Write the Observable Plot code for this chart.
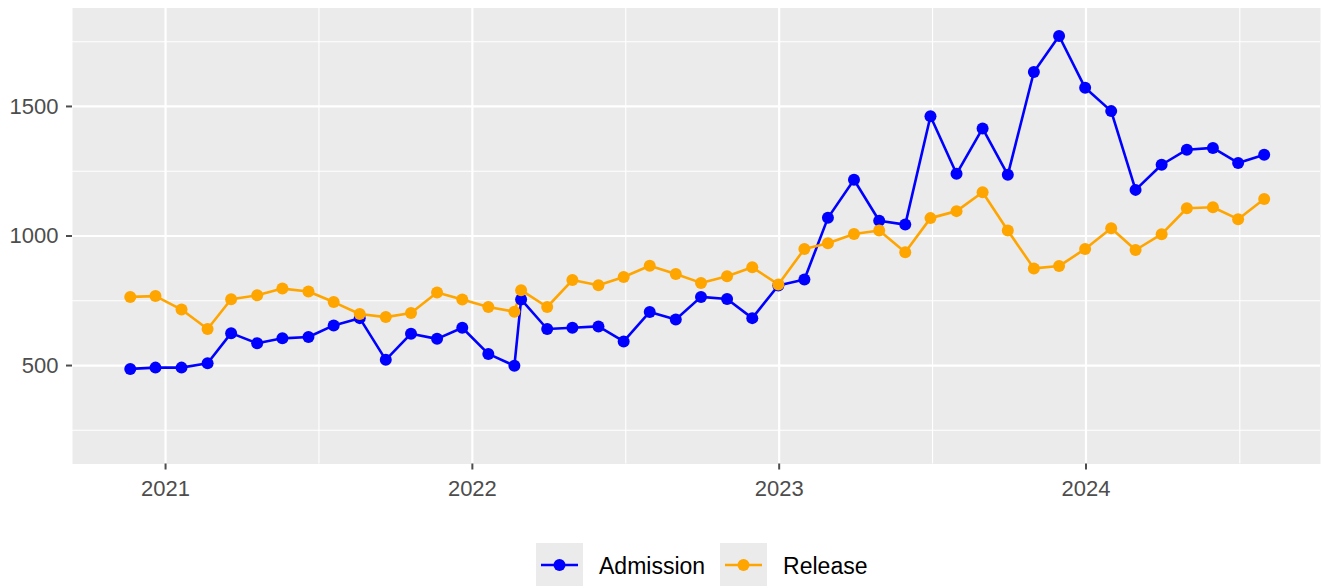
<!DOCTYPE html>
<html>
<head>
<meta charset="utf-8">
<script src="https://cdn.jsdelivr.net/npm/d3@7"></script>
<script src="https://cdn.jsdelivr.net/npm/@observablehq/plot@0.6"></script>
<style>
  body { margin: 0; background: #fff; font-family: "Liberation Sans", Arial, sans-serif; }
  #wrap { position: relative; width: 1323px; height: 586px; overflow: hidden; background: #fff; }
  #chart svg { display: block; }
  #legend { position: absolute; top: 543px; left: 536px; display: flex; align-items: center; }
  .item { display: flex; align-items: center; margin-right: 15px; }
  .key { width: 47px; height: 47px; background: #EBEBEB; display: block; }
  .lab { font-size: 23px; color: #000; margin-left: 16px; line-height: 47px; }
</style>
</head>
<body>
<div id="wrap">
  <div id="chart"></div>
  <div id="legend"></div>
</div>
<script>
// ---- data ----
const dates = [
  "2020-11-20","2020-12-20","2021-01-20","2021-02-20","2021-03-20","2021-04-20",
  "2021-05-20","2021-06-20","2021-07-20","2021-08-20","2021-09-20","2021-10-20",
  "2021-11-20","2021-12-20","2022-01-20","2022-02-20",
  "2022-02-28","2022-03-31","2022-04-30","2022-05-31","2022-06-30","2022-07-31",
  "2022-08-31","2022-09-30","2022-10-31","2022-11-30","2022-12-31","2023-01-31",
  "2023-02-28","2023-03-31","2023-04-30","2023-05-31","2023-06-30","2023-07-31",
  "2023-08-31","2023-09-30","2023-10-31","2023-11-30","2023-12-31","2024-01-31",
  "2024-02-29","2024-03-31","2024-04-30","2024-05-31","2024-06-30","2024-07-31"
];
const admission = [
  487, 492, 492, 509, 625, 586, 605, 610, 655, 683, 522, 623, 603, 646, 545, 499,
  755, 641, 646, 651, 593, 707, 678, 765, 757, 683, 809, 832,
  1070, 1217, 1059, 1044, 1462, 1240, 1415, 1236, 1633, 1772, 1572, 1482,
  1178, 1275, 1333, 1340, 1282, 1314
];
const release = [
  765, 768, 716, 641, 756, 771, 797, 786, 745, 699, 687, 703, 782, 755, 726, 708,
  791, 726, 830, 810, 842, 885, 853, 819, 845, 879, 813, 950,
  972, 1008, 1021, 937, 1069, 1096, 1169, 1021, 875, 884, 950, 1030,
  946, 1007, 1107, 1111, 1065, 1143
];
const seriesNames = ["Admission", "Release"];
const seriesColors = ["#0000FF", "#FFA500"];
const yearTicks = [2021, 2022, 2023, 2024];
const yMajorTicks = [500, 1000, 1500];
const yMinorTicks = [250, 750, 1250, 1750];

// ---- build table ----
const rows = [];
[admission, release].forEach((vals, s) => {
  vals.forEach((v, i) => rows.push({ date: new Date(dates[i] + "T00:00:00Z"), value: v, series: seriesNames[s] }));
});

const majorX = yearTicks.map(y => new Date(Date.UTC(y, 0, 1)));
const minorX = yearTicks.map(y => {
  const a = Date.UTC(y, 0, 1), b = Date.UTC(y + 1, 0, 1);
  return new Date((a + b) / 2);
});

const W = 1323, H = 520;
const chart = Plot.plot({
  width: W,
  height: H,
  marginLeft: 72,
  marginRight: 3,
  marginTop: 7.5,
  marginBottom: H - 463.5,
  style: { fontFamily: "'Liberation Sans', Arial, sans-serif", fontSize: "22px", background: "#fff", overflow: "visible" },
  x: { type: "utc", domain: [new Date(Date.UTC(2020, 8, 12, 7)), new Date(Date.UTC(2024, 9, 6))] },
  y: { domain: [120, 1880] },
  color: { domain: seriesNames, range: seriesColors },
  marks: [
    Plot.frame({ fill: "#EBEBEB", stroke: null }),
    Plot.ruleY(yMinorTicks, { stroke: "#fff", strokeWidth: 1.1 }),
    Plot.ruleX(minorX, { stroke: "#fff", strokeWidth: 1.1 }),
    Plot.ruleY(yMajorTicks, { stroke: "#fff", strokeWidth: 2.2 }),
    Plot.ruleX(majorX, { stroke: "#fff", strokeWidth: 2.2 }),
    Plot.axisY({ ticks: yMajorTicks, tickSize: 6, tickPadding: 8, fontSize: 22, color: "#4D4D4D", strokeWidth: 2, tickFormat: d => String(d), label: null }),
    Plot.axisX({ ticks: majorX, tickSize: 6, tickPadding: 10, fontSize: 22, color: "#4D4D4D", strokeWidth: 2, tickFormat: d => String(d.getUTCFullYear()), label: null }),
    Plot.line(rows, { x: "date", y: "value", z: "series", stroke: "series", strokeWidth: 2.6 }),
    Plot.dot(rows, { x: "date", y: "value", fill: "series", r: 6 })
  ]
});
document.getElementById("chart").appendChild(chart);

// ---- legend ----
const legend = document.getElementById("legend");
seriesNames.forEach((name, i) => {
  const item = document.createElement("div");
  item.className = "item";
  const ns = "http://www.w3.org/2000/svg";
  const key = document.createElementNS(ns, "svg");
  key.setAttribute("class", "key");
  key.setAttribute("width", 47);
  key.setAttribute("height", 47);
  const ln = document.createElementNS(ns, "line");
  ln.setAttribute("x1", 5); ln.setAttribute("x2", 42);
  ln.setAttribute("y1", 22); ln.setAttribute("y2", 22);
  ln.setAttribute("stroke", seriesColors[i]); ln.setAttribute("stroke-width", 2.6);
  const c = document.createElementNS(ns, "circle");
  c.setAttribute("cx", 23.5); c.setAttribute("cy", 22); c.setAttribute("r", 6);
  c.setAttribute("fill", seriesColors[i]);
  key.appendChild(ln); key.appendChild(c);
  const lab = document.createElement("span");
  lab.className = "lab";
  lab.textContent = name;
  item.appendChild(key); item.appendChild(lab);
  legend.appendChild(item);
});
</script>
</body>
</html>
